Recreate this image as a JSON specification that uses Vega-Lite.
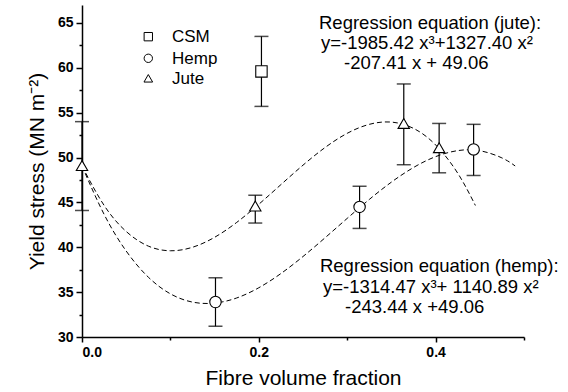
{
  "$schema": "https://vega.github.io/schema/vega-lite/v6.json",
  "width": 442,
  "height": 332,
  "autosize": "none",
  "padding": {"left": 82, "top": 5, "right": 44, "bottom": 55},
  "background": "white",
  "config": {
    "view": {"stroke": null},
    "font": "Liberation Sans",
    "axis": {
      "domainColor": "black", "domainWidth": 1.5, "tickColor": "black", "tickWidth": 1.5,
      "labelFont": "Liberation Sans", "labelFontWeight": "bold", "labelFontSize": 14, "labelColor": "black",
      "titleFont": "Liberation Sans", "titleFontWeight": "normal", "titleFontSize": 21, "titleColor": "black",
      "grid": false
    }
  },
  "datasets": {
    "points": [
      {"series": "CSM", "x": 0.203, "y": 59.6, "lo": 55.7, "hi": 63.5},
      {"series": "Jute", "x": 0.0, "y": 49.1, "lo": 44.1, "hi": 54.0},
      {"series": "Jute", "x": 0.196, "y": 44.6, "lo": 42.7, "hi": 45.8},
      {"series": "Jute", "x": 0.364, "y": 53.8, "lo": 49.2, "hi": 58.2},
      {"series": "Jute", "x": 0.404, "y": 51.1, "lo": 48.3, "hi": 53.8},
      {"series": "Hemp", "x": 0.151, "y": 33.9, "lo": 31.2, "hi": 36.6},
      {"series": "Hemp", "x": 0.314, "y": 44.5, "lo": 42.1, "hi": 46.8},
      {"series": "Hemp", "x": 0.443, "y": 50.9, "lo": 48.0, "hi": 53.7}
    ],
    "curves": [
      {"curve": "Jute", "x": 0.0, "y": 49.06},
      {"curve": "Jute", "x": 0.025, "y": 44.67},
      {"curve": "Jute", "x": 0.05, "y": 41.76},
      {"curve": "Jute", "x": 0.075, "y": 40.13},
      {"curve": "Jute", "x": 0.1, "y": 39.61},
      {"curve": "Jute", "x": 0.125, "y": 40.0},
      {"curve": "Jute", "x": 0.15, "y": 41.11},
      {"curve": "Jute", "x": 0.175, "y": 42.77},
      {"curve": "Jute", "x": 0.2, "y": 44.79},
      {"curve": "Jute", "x": 0.225, "y": 46.98},
      {"curve": "Jute", "x": 0.25, "y": 49.15},
      {"curve": "Jute", "x": 0.275, "y": 51.12},
      {"curve": "Jute", "x": 0.3, "y": 52.7},
      {"curve": "Jute", "x": 0.325, "y": 53.7},
      {"curve": "Jute", "x": 0.35, "y": 53.95},
      {"curve": "Jute", "x": 0.375, "y": 53.25},
      {"curve": "Jute", "x": 0.4, "y": 51.41},
      {"curve": "Jute", "x": 0.425, "y": 48.26},
      {"curve": "Jute", "x": 0.445, "y": 44.66},
      {"curve": "Hemp", "x": 0.0, "y": 49.06},
      {"curve": "Hemp", "x": 0.025, "y": 43.67},
      {"curve": "Hemp", "x": 0.05, "y": 39.58},
      {"curve": "Hemp", "x": 0.075, "y": 36.67},
      {"curve": "Hemp", "x": 0.1, "y": 34.81},
      {"curve": "Hemp", "x": 0.125, "y": 33.89},
      {"curve": "Hemp", "x": 0.15, "y": 33.78},
      {"curve": "Hemp", "x": 0.175, "y": 34.35},
      {"curve": "Hemp", "x": 0.2, "y": 35.49},
      {"curve": "Hemp", "x": 0.225, "y": 37.07},
      {"curve": "Hemp", "x": 0.25, "y": 38.97},
      {"curve": "Hemp", "x": 0.275, "y": 41.06},
      {"curve": "Hemp", "x": 0.3, "y": 43.22},
      {"curve": "Hemp", "x": 0.325, "y": 45.33},
      {"curve": "Hemp", "x": 0.35, "y": 47.26},
      {"curve": "Hemp", "x": 0.375, "y": 48.89},
      {"curve": "Hemp", "x": 0.4, "y": 50.1},
      {"curve": "Hemp", "x": 0.425, "y": 50.77},
      {"curve": "Hemp", "x": 0.45, "y": 50.76},
      {"curve": "Hemp", "x": 0.475, "y": 49.96},
      {"curve": "Hemp", "x": 0.49, "y": 49.06}
    ],
    "one": [{}]
  },
  "encoding": {
    "x": {
      "type": "quantitative",
      "scale": {"domain": [0, 0.5], "nice": false, "zero": false},
      "axis": {
        "title": "Fibre volume fraction",
        "values": [0, 0.1, 0.2, 0.3, 0.4, 0.5],
        "format": ".1f",
        "labelExpr": "round(datum.value * 10) % 2 == 0 && datum.value < 0.45 ? datum.label : ''",
        "tickSize": {"condition": {"test": "round(datum.value * 10) % 2 == 0", "value": 5}, "value": 3},
        "labelPadding": 3,
        "titlePadding": 8
      }
    },
    "y": {
      "type": "quantitative",
      "scale": {"domain": [30, 67], "nice": false, "zero": false},
      "axis": {
        "title": "Yield stress (MN m⁻²)",
        "values": [30, 32.5, 35, 37.5, 40, 42.5, 45, 47.5, 50, 52.5, 55, 57.5, 60, 62.5, 65],
        "labelExpr": "datum.value % 5 == 0 ? datum.label : ''",
        "tickSize": {"condition": {"test": "datum.value % 5 == 0", "value": 6}, "value": 3},
        "labelPadding": 3,
        "titlePadding": 10
      }
    }
  },
  "layer": [
    {
      "data": {"name": "curves"},
      "mark": {"type": "line", "color": "black", "strokeWidth": 1, "strokeDash": [5, 3], "interpolate": "natural"},
      "encoding": {
        "x": {"field": "x"},
        "y": {"field": "y"},
        "detail": {"field": "curve"}
      }
    },
    {
      "data": {"name": "points"},
      "mark": {"type": "rule", "color": "black", "strokeWidth": 1.2},
      "encoding": {"x": {"field": "x"}, "y": {"field": "lo"}, "y2": {"field": "hi"}}
    },
    {
      "data": {"name": "points"},
      "mark": {"type": "tick", "orient": "horizontal", "color": "black", "size": 14, "thickness": 1.5},
      "encoding": {"x": {"field": "x"}, "y": {"field": "lo"}}
    },
    {
      "data": {"name": "points"},
      "mark": {"type": "tick", "orient": "horizontal", "color": "black", "size": 14, "thickness": 1.5},
      "encoding": {"x": {"field": "x"}, "y": {"field": "hi"}}
    },
    {
      "data": {"name": "points"},
      "mark": {"type": "point", "filled": true, "fill": "white", "stroke": "black", "strokeWidth": 1.1, "size": 130, "opacity": 1},
      "encoding": {
        "x": {"field": "x"},
        "y": {"field": "y"},
        "shape": {
          "field": "series", "type": "nominal",
          "scale": {"domain": ["CSM", "Hemp", "Jute"], "range": ["square", "circle", "triangle-up"]},
          "legend": null
        }
      }
    },
    {
      "data": {"name": "one"},
      "mark": {"type": "point", "shape": "square", "filled": true, "fill": "white", "stroke": "black", "strokeWidth": 1, "size": 70, "opacity": 1},
      "encoding": {"x": {"datum": 0.075}, "y": {"datum": 63.47}}
    },
    {
      "data": {"name": "one"},
      "mark": {"type": "point", "shape": "circle", "filled": true, "fill": "white", "stroke": "black", "strokeWidth": 1, "size": 70, "opacity": 1},
      "encoding": {"x": {"datum": 0.075}, "y": {"datum": 61.06}}
    },
    {
      "data": {"name": "one"},
      "mark": {"type": "point", "shape": "triangle-up", "filled": true, "fill": "white", "stroke": "black", "strokeWidth": 1, "size": 75, "opacity": 1},
      "encoding": {"x": {"datum": 0.075}, "y": {"datum": 58.83}}
    },
    {
      "data": {"name": "one"},
      "mark": {"type": "text", "align": "left", "baseline": "alphabetic", "fontSize": 17, "font": "Liberation Sans", "color": "black"},
      "encoding": {"x": {"datum": 0.1018}, "y": {"datum": 62.86}, "text": {"value": "CSM"}}
    },
    {
      "data": {"name": "one"},
      "mark": {"type": "text", "align": "left", "baseline": "alphabetic", "fontSize": 17, "font": "Liberation Sans", "color": "black"},
      "encoding": {"x": {"datum": 0.1018}, "y": {"datum": 60.45}, "text": {"value": "Hemp"}}
    },
    {
      "data": {"name": "one"},
      "mark": {"type": "text", "align": "left", "baseline": "alphabetic", "fontSize": 17, "font": "Liberation Sans", "color": "black"},
      "encoding": {"x": {"datum": 0.1018}, "y": {"datum": 58.22}, "text": {"value": "Jute"}}
    },
    {
      "data": {"name": "one"},
      "mark": {"type": "text", "align": "left", "baseline": "alphabetic", "fontSize": 18.5, "font": "Liberation Sans", "color": "black"},
      "encoding": {"x": {"datum": 0.2681}, "y": {"datum": 64.33}, "text": {"value": "Regression equation (jute):"}}
    },
    {
      "data": {"name": "one"},
      "mark": {"type": "text", "align": "left", "baseline": "alphabetic", "fontSize": 18.5, "font": "Liberation Sans", "color": "black"},
      "encoding": {"x": {"datum": 0.2704}, "y": {"datum": 62.1}, "text": {"value": "y=-1985.42 x³+1327.40 x²"}}
    },
    {
      "data": {"name": "one"},
      "mark": {"type": "text", "align": "left", "baseline": "alphabetic", "fontSize": 18.5, "font": "Liberation Sans", "color": "black"},
      "encoding": {"x": {"datum": 0.2964}, "y": {"datum": 59.87}, "text": {"value": "-207.41 x + 49.06"}}
    },
    {
      "data": {"name": "one"},
      "mark": {"type": "text", "align": "left", "baseline": "alphabetic", "fontSize": 18.5, "font": "Liberation Sans", "color": "black"},
      "encoding": {"x": {"datum": 0.2692}, "y": {"datum": 37.24}, "text": {"value": "Regression equation (hemp):"}}
    },
    {
      "data": {"name": "one"},
      "mark": {"type": "text", "align": "left", "baseline": "alphabetic", "fontSize": 18.5, "font": "Liberation Sans", "color": "black"},
      "encoding": {"x": {"datum": 0.2726}, "y": {"datum": 34.9}, "text": {"value": "y=-1314.47 x³+ 1140.89 x²"}}
    },
    {
      "data": {"name": "one"},
      "mark": {"type": "text", "align": "left", "baseline": "alphabetic", "fontSize": 18.5, "font": "Liberation Sans", "color": "black"},
      "encoding": {"x": {"datum": 0.2975}, "y": {"datum": 32.67}, "text": {"value": "-243.44 x +49.06"}}
    }
  ]
}
